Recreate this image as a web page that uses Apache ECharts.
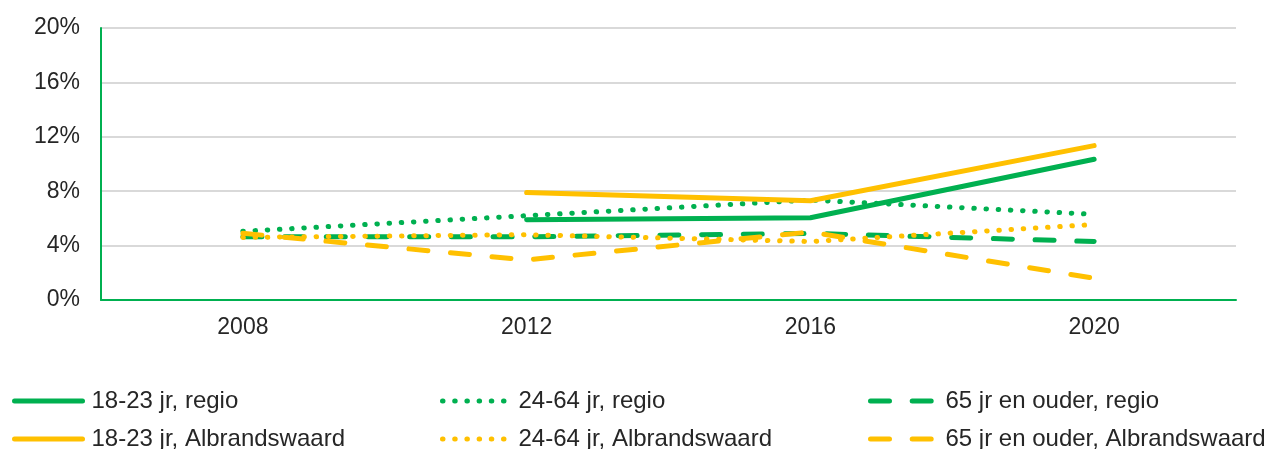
<!DOCTYPE html>
<html>
<head>
<meta charset="utf-8">
<script src="https://cdn.jsdelivr.net/npm/echarts@6/dist/echarts.min.js"></script>
<style>
  html, body { margin: 0; padding: 0; background: #fff; }
  #chart { width: 1267px; height: 449px; }
</style>
</head>
<body>
<div id="chart"></div>
<script>
const years = ['2008', '2012', '2016', '2020']
const yTicks = [0, 4, 8, 12, 16, 20]

// percentages per year
const jong_regio = [null, 5.9, 6.05, 10.35]
const jong_alb = [null, 7.9, 7.3, 11.35]
const midden_regio = [5.05, 6.2, 7.35, 6.3]
const midden_alb = [4.6, 4.8, 4.3, 5.55]
const oud_regio = [4.65, 4.65, 4.9, 4.3]
const oud_alb = [4.9, 2.95, 5.0, 1.6]

const GREEN = '#00B050'
const YELLOW = '#FFC000'
const TEXT = '#262626'
const FONT = '"Liberation Sans", Arial, sans-serif'

const DOT = [0.5, 11.7]
const DASH = [19, 22.7]

function line (name, data, color, type) {
  return {
    name: name,
    type: 'line',
    data: data,
    symbol: 'none',
    connectNulls: false,
    silent: true,
    lineStyle: { color: color, width: 5, type: type, cap: 'round', join: 'round' },
    itemStyle: { color: color }
  }
}

// one legend per item so the three columns line up like the original
function legendItem (name, left, top, width, pad) {
  return {
    left: left,
    top: top,
    padding: 0,
    itemWidth: width,
    itemHeight: 26,
    selectedMode: false,
    itemStyle: { opacity: 0 },
    lineStyle: { width: 5, cap: 'round' },
    textStyle: {
      fontFamily: FONT,
      fontSize: 24,
      color: TEXT,
      lineHeight: 26,
      padding: [0, 0, 0, pad]
    },
    data: [name]
  }
}

const chart = echarts.init(document.getElementById('chart'))
chart.setOption({
  animation: false,
  grid: { left: 101, right: 31, top: 28, bottom: 149 },
  legend: [
    legendItem('18-23 jr, regio', 12, 388, 68, 4),
    legendItem('18-23 jr, Albrandswaard', 12, 426, 68, 4),
    legendItem('24-64 jr, regio', 440, 388, 62, 9),
    legendItem('24-64 jr, Albrandswaard', 440, 426, 62, 9),
    legendItem('65 jr en ouder, regio', 868, 388, 61, 9),
    legendItem('65 jr en ouder, Albrandswaard', 868, 426, 61, 9)
  ],
  xAxis: {
    type: 'category',
    data: years,
    boundaryGap: true,
    axisLine: { lineStyle: { color: GREEN, width: 2 } },
    axisTick: { show: false },
    axisLabel: { fontFamily: FONT, fontSize: 23, color: TEXT, margin: 16 }
  },
  yAxis: {
    type: 'value',
    min: yTicks[0],
    max: yTicks[yTicks.length - 1],
    interval: 4,
    axisLine: { show: true, lineStyle: { color: GREEN, width: 2 } },
    axisTick: { show: false },
    axisLabel: {
      fontFamily: FONT,
      fontSize: 23,
      color: TEXT,
      margin: 21,
      formatter: '{value}%'
    },
    splitLine: { lineStyle: { color: '#D9D9D9', width: 2 } }
  },
  series: [
    line('18-23 jr, regio', jong_regio, GREEN, 'solid'),
    line('24-64 jr, regio', midden_regio, GREEN, DOT),
    line('65 jr en ouder, regio', oud_regio, GREEN, DASH),
    line('18-23 jr, Albrandswaard', jong_alb, YELLOW, 'solid'),
    line('24-64 jr, Albrandswaard', midden_alb, YELLOW, DOT),
    line('65 jr en ouder, Albrandswaard', oud_alb, YELLOW, DASH)
  ]
})
</script>
</body>
</html>
